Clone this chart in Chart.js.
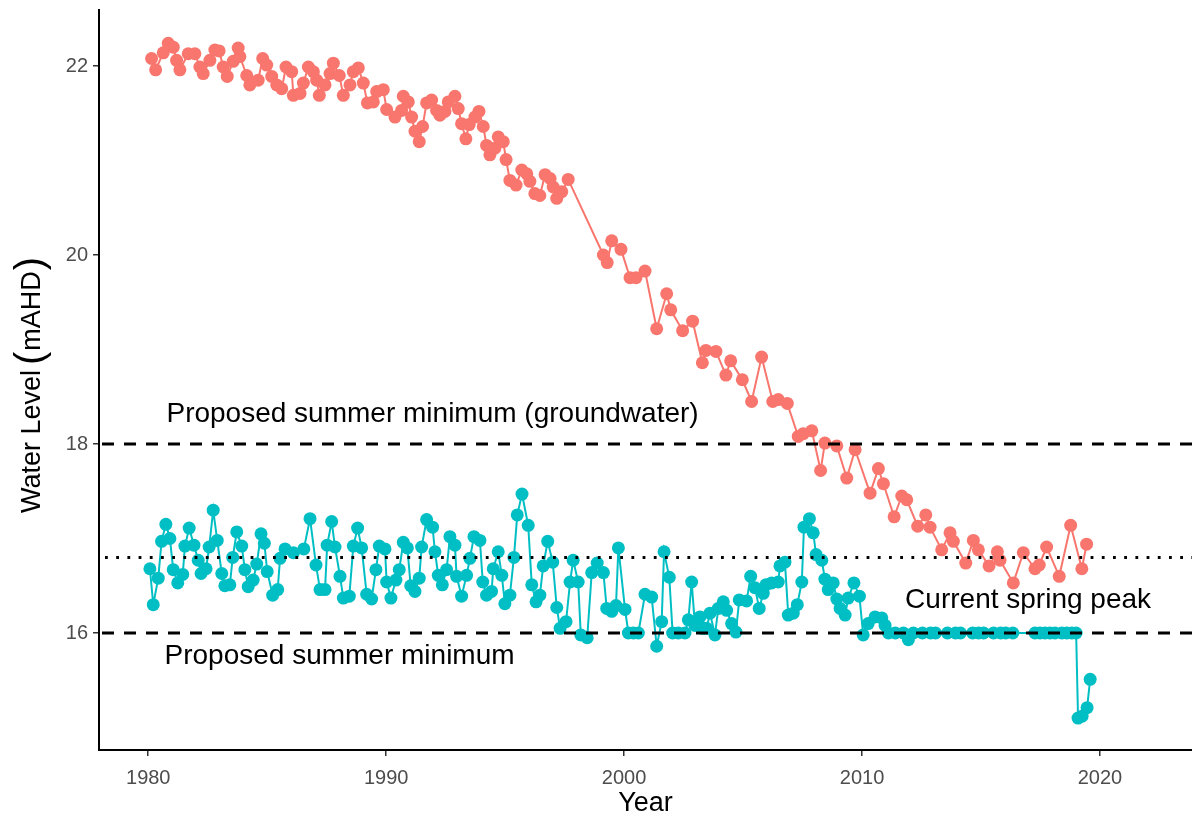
<!DOCTYPE html>
<html>
<head>
<meta charset="utf-8">
<title>Water Level</title>
<script src="https://cdn.jsdelivr.net/npm/chart.js@4.4.1/dist/chart.umd.min.js"></script>
<style>
  html, body { margin: 0; padding: 0; background: #ffffff; }
  #wrap { width: 1192px; height: 818px; }
</style>
</head>
<body>
<div id="wrap"><canvas id="chart" width="1192" height="818"></canvas></div>
<script>
// Groundwater level readings: [year, level in mAHD]
const groundwater = [
  [1980.14,22.08],[1980.31,21.96],[1980.63,22.14],[1980.84,22.24],[1981.05,22.20],[1981.19,22.06],
  [1981.33,21.96],[1981.68,22.13],[1981.96,22.13],[1982.17,21.99],[1982.31,21.92],[1982.59,22.06],
  [1982.80,22.17],[1982.98,22.16],[1983.15,21.99],[1983.32,21.89],[1983.57,22.05],[1983.78,22.19],
  [1983.85,22.10],[1984.14,21.90],[1984.27,21.80],[1984.62,21.85],[1984.81,22.08],[1984.98,22.01],
  [1985.19,21.89],[1985.40,21.80],[1985.61,21.76],[1985.79,21.99],[1986.03,21.94],[1986.10,21.69],
  [1986.38,21.71],[1986.52,21.82],[1986.73,21.99],[1986.94,21.94],[1987.08,21.85],[1987.19,21.69],
  [1987.43,21.80],[1987.64,21.92],[1987.78,22.03],[1988.03,21.90],[1988.20,21.69],[1988.48,21.80],
  [1988.62,21.94],[1988.83,21.98],[1989.04,21.82],[1989.21,21.61],[1989.46,21.62],[1989.60,21.73],
  [1989.88,21.75],[1990.02,21.54],[1990.37,21.46],[1990.65,21.53],[1990.72,21.68],[1990.93,21.62],
  [1991.07,21.46],[1991.21,21.31],[1991.39,21.20],[1991.53,21.36],[1991.70,21.61],[1991.91,21.64],
  [1992.12,21.53],[1992.26,21.48],[1992.47,21.52],[1992.61,21.62],[1992.89,21.68],[1993.03,21.55],
  [1993.17,21.39],[1993.35,21.23],[1993.49,21.38],[1993.73,21.46],[1993.90,21.52],[1994.08,21.36],
  [1994.22,21.16],[1994.36,21.06],[1994.57,21.13],[1994.71,21.25],[1994.92,21.20],[1995.04,21.01],
  [1995.20,20.79],[1995.46,20.74],[1995.70,20.90],[1995.91,20.86],[1996.04,20.78],[1996.25,20.65],
  [1996.46,20.63],[1996.68,20.85],[1996.89,20.81],[1997.02,20.72],[1997.17,20.60],[1997.38,20.67],
  [1997.65,20.80],
  [1999.13,20.00],[1999.29,19.92],[1999.48,20.15],[1999.87,20.06],[2000.25,19.76],[2000.50,19.76],
  [2000.88,19.83],[2001.37,19.22],[2001.79,19.59],[2001.96,19.42],[2002.46,19.20],[2002.88,19.30],
  [2003.29,18.86],[2003.44,18.99],[2003.86,18.98],[2004.28,18.73],[2004.48,18.88],[2004.97,18.68],
  [2005.36,18.45],[2005.78,18.92],[2006.25,18.45],[2006.48,18.47],[2006.86,18.43],[2007.32,18.08],
  [2007.53,18.11],[2007.89,18.14],[2008.26,17.72],[2008.44,18.01],[2008.94,17.98],[2009.36,17.64],
  [2009.71,17.94],[2010.34,17.48],[2010.69,17.74],[2010.90,17.58],[2011.35,17.23],[2011.67,17.45],
  [2011.88,17.41],[2012.34,17.13],[2012.68,17.25],[2012.86,17.12],[2013.35,16.88],[2013.70,17.06],
  [2013.84,16.97],[2014.36,16.74],[2014.68,16.98],[2014.89,16.88],[2015.34,16.71],[2015.69,16.86],
  [2015.80,16.77],[2016.36,16.53],[2016.78,16.85],[2017.27,16.68],[2017.45,16.72],[2017.76,16.91],
  [2018.29,16.60],[2018.77,17.14],[2019.24,16.68],[2019.44,16.94]
];

// Spring level readings: [year, level in mAHD]
const spring = [
  [1980.07,16.68],[1980.21,16.30],[1980.42,16.58],[1980.56,16.97],[1980.74,17.15],[1980.91,17.00],
  [1981.05,16.67],[1981.24,16.53],[1981.45,16.62],[1981.54,16.92],[1981.72,17.11],[1981.92,16.93],
  [1982.10,16.77],[1982.22,16.63],[1982.43,16.68],[1982.56,16.91],[1982.73,17.30],[1982.90,16.98],
  [1983.09,16.63],[1983.22,16.50],[1983.43,16.51],[1983.55,16.80],[1983.72,17.07],[1983.93,16.92],
  [1984.06,16.67],[1984.20,16.49],[1984.41,16.56],[1984.56,16.73],[1984.74,17.05],[1984.88,16.95],
  [1985.00,16.65],[1985.23,16.40],[1985.44,16.46],[1985.54,16.79],[1985.75,16.89],[1986.10,16.85],
  [1986.54,16.89],[1986.80,17.21],[1987.05,16.72],[1987.22,16.46],[1987.43,16.46],[1987.52,16.93],
  [1987.71,17.18],[1987.85,16.91],[1988.06,16.60],[1988.20,16.37],[1988.45,16.39],[1988.62,16.92],
  [1988.80,17.11],[1988.97,16.90],[1989.18,16.41],[1989.39,16.36],[1989.57,16.67],[1989.71,16.92],
  [1989.95,16.89],[1990.02,16.54],[1990.20,16.37],[1990.41,16.56],[1990.55,16.67],[1990.72,16.96],
  [1990.89,16.90],[1991.03,16.50],[1991.21,16.44],[1991.39,16.58],[1991.49,16.91],[1991.70,17.20],
  [1991.95,17.12],[1992.05,16.86],[1992.19,16.61],[1992.36,16.51],[1992.54,16.67],[1992.68,17.02],
  [1992.89,16.93],[1992.96,16.60],[1993.17,16.39],[1993.38,16.61],[1993.52,16.79],[1993.69,17.02],
  [1993.94,16.98],[1994.06,16.54],[1994.22,16.40],[1994.43,16.44],[1994.50,16.68],[1994.71,16.86],
  [1994.86,16.61],[1994.99,16.31],[1995.20,16.40],[1995.37,16.80],[1995.51,17.25],[1995.71,17.47],
  [1995.97,17.14],[1996.12,16.51],[1996.30,16.33],[1996.46,16.40],[1996.60,16.71],[1996.79,16.97],
  [1997.00,16.75],[1997.17,16.27],[1997.31,16.05],[1997.56,16.12],[1997.73,16.54],[1997.86,16.77],
  [1998.07,16.54],[1998.18,15.98],[1998.45,15.95],[1998.64,16.64],[1998.87,16.74],[1999.13,16.64],
  [1999.27,16.26],[1999.48,16.23],[1999.66,16.29],[1999.76,16.90],[2000.04,16.25],[2000.18,16.00],
  [2000.39,16.00],[2000.60,16.00],[2000.88,16.41],[2001.16,16.38],[2001.37,15.86],[2001.58,16.12],
  [2001.68,16.86],[2001.90,16.59],[2002.04,16.00],[2002.28,16.00],[2002.56,16.00],[2002.70,16.14],
  [2002.84,16.54],[2002.98,16.08],[2003.19,16.17],[2003.30,16.05],[2003.47,16.05],[2003.61,16.21],
  [2003.82,15.98],[2003.96,16.26],[2004.17,16.33],[2004.31,16.24],[2004.52,16.10],[2004.70,16.01],
  [2004.84,16.35],[2005.15,16.34],[2005.32,16.60],[2005.50,16.48],[2005.68,16.26],[2005.85,16.42],
  [2005.96,16.51],[2006.20,16.53],[2006.48,16.54],[2006.55,16.71],[2006.76,16.75],[2006.90,16.19],
  [2007.11,16.21],[2007.28,16.30],[2007.47,16.54],[2007.56,17.12],[2007.79,17.21],[2007.95,17.06],
  [2008.07,16.83],[2008.31,16.77],[2008.44,16.57],[2008.58,16.46],[2008.79,16.53],[2008.94,16.36],
  [2009.08,16.26],[2009.29,16.19],[2009.42,16.37],[2009.66,16.53],[2009.89,16.39],[2010.05,15.98],
  [2010.26,16.10],[2010.55,16.17],[2010.83,16.16],[2010.97,16.08],[2011.11,16.00],[2011.40,16.00],
  [2011.74,16.00],[2011.95,15.93],[2012.16,16.00],[2012.54,16.00],[2012.88,16.00],[2013.09,16.00],
  [2013.59,16.00],[2013.93,16.00],[2014.14,16.00],[2014.65,16.00],[2014.90,16.00],[2015.11,16.00],
  [2015.53,16.00],[2015.83,16.00],[2016.04,16.00],[2016.34,16.00],[2017.27,16.00],[2017.48,16.00],
  [2017.69,16.00],[2017.90,16.00],[2018.11,16.00],[2018.40,16.00],[2018.61,16.00],[2018.82,16.00],
  [2019.00,16.00],[2019.08,15.10],[2019.25,15.12],[2019.46,15.21],[2019.59,15.51]
];

const xTicks = [1980, 1990, 2000, 2010, 2020];
const yTicks = [16, 18, 20, 22];

// Horizontal reference levels (mAHD)
const dashedLevels = [18, 16];
const dottedLevels = [16.8];

// Annotation text anchored at [year, level]
const notes = [
  { text: 'Proposed summer minimum (groundwater)', at: [1991.95, 18.32] },
  { text: 'Proposed summer minimum', at: [1988.04, 15.75] },
  { text: 'Current spring peak', at: [2016.98, 16.35] }
];

const FONT = "'Liberation Sans', Arial, Helvetica, sans-serif";
Chart.defaults.font.family = FONT;

const toPoints = rows => rows.map(([x, y]) => ({ x, y }));

// Reference lines and text labels over the plotted series
const overlays = {
  id: 'overlays',
  afterDatasetsDraw(chart) {
    const { ctx, chartArea: a, scales: { x, y } } = chart;
    ctx.save();
    ctx.strokeStyle = '#000000';
    ctx.lineWidth = 3;
    ctx.lineCap = 'butt';
    ctx.setLineDash([12, 10]);
    ctx.lineDashOffset = -3;
    dashedLevels.forEach(v => {
      const py = y.getPixelForValue(v);
      ctx.beginPath(); ctx.moveTo(a.left, py); ctx.lineTo(a.right, py); ctx.stroke();
    });
    ctx.setLineDash([2.8, 8.4]);
    ctx.lineDashOffset = -6;
    dottedLevels.forEach(v => {
      const py = y.getPixelForValue(v);
      ctx.beginPath(); ctx.moveTo(a.left, py); ctx.lineTo(a.right, py); ctx.stroke();
    });
    ctx.setLineDash([]);
    ctx.fillStyle = '#000000';
    ctx.font = '28px ' + FONT;
    ctx.textAlign = 'center';
    ctx.textBaseline = 'middle';
    notes.forEach(n => {
      ctx.fillText(n.text, x.getPixelForValue(n.at[0]), y.getPixelForValue(n.at[1]));
    });
    ctx.restore();
  },
  // y-axis title with enlarged brackets around the unit
  afterDraw(chart) {
    const { ctx } = chart;
    const parts = [
      { t: 'Water Level', size: 27, gap: 5 },
      { t: '(', size: 40, gap: 1 },
      { t: 'mAHD', size: 27, gap: 1 },
      { t: ')', size: 40, gap: 0 }
    ];
    ctx.save();
    let total = 0;
    parts.forEach(p => {
      ctx.font = p.size + 'px ' + FONT;
      p.w = ctx.measureText(p.t).width;
      total += p.w + p.gap;
    });
    ctx.translate(33, 385);
    ctx.rotate(-Math.PI / 2);
    ctx.fillStyle = '#000000';
    ctx.textAlign = 'left';
    ctx.textBaseline = 'middle';
    let cx = -total / 2;
    parts.forEach(p => {
      ctx.font = p.size + 'px ' + FONT;
      ctx.fillText(p.t, cx, p.size > 30 ? -1 : 0);
      cx += p.w + p.gap;
    });
    ctx.restore();
  }
};

const axisCommon = {
  type: 'linear',
  grid: {
    display: true,
    drawOnChartArea: false,
    drawTicks: true,
    tickLength: 6,
    color: '#333333',
    lineWidth: 1.5
  },
  border: { display: true, color: '#000000', width: 2 },
  ticks: {
    color: '#4d4d4d',
    font: { size: 20, family: FONT },
    padding: 5,
    autoSkip: false,
    maxRotation: 0,
    callback: v => String(v)
  }
};

new Chart(document.getElementById('chart'), {
  type: 'scatter',
  data: {
    datasets: [
      {
        label: 'Groundwater',
        data: toPoints(groundwater),
        showLine: true,
        borderColor: '#F8766D',
        backgroundColor: '#F8766D',
        borderWidth: 2,
        pointRadius: 6.5,
        pointBorderWidth: 0,
        pointBackgroundColor: '#F8766D'
      },
      {
        label: 'Spring',
        data: toPoints(spring),
        showLine: true,
        borderColor: '#00BFC4',
        backgroundColor: '#00BFC4',
        borderWidth: 2,
        pointRadius: 6.5,
        pointBorderWidth: 0,
        pointBackgroundColor: '#00BFC4'
      }
    ]
  },
  options: {
    responsive: false,
    animation: false,
    devicePixelRatio: 1,
    layout: { autoPadding: false, padding: { top: 10, right: 0, bottom: 0, left: 0 } },
    plugins: { legend: { display: false }, tooltip: { enabled: false } },
    scales: {
      x: {
        ...axisCommon,
        min: 1977.93,
        max: 2023.87,
        afterBuildTicks: s => { s.ticks = xTicks.map(v => ({ value: v })); },
        afterFit: s => { s.height = 68; s.paddingLeft = 0; s.paddingRight = 0; },
        ticks: { ...axisCommon.ticks, padding: 10 },
        title: {
          display: true,
          text: 'Year',
          color: '#000000',
          font: { size: 27, family: FONT, lineHeight: 1.1 },
          padding: { top: 0, bottom: 0 }
        }
      },
      y: {
        ...axisCommon,
        min: 14.762,
        max: 22.593,
        afterBuildTicks: s => { s.ticks = yTicks.map(v => ({ value: v })); },
        afterFit: s => { s.width = 99; s.paddingTop = 0; s.paddingBottom = 0; },
        title: { display: false }
      }
    }
  },
  plugins: [overlays]
});
</script>
</body>
</html>
